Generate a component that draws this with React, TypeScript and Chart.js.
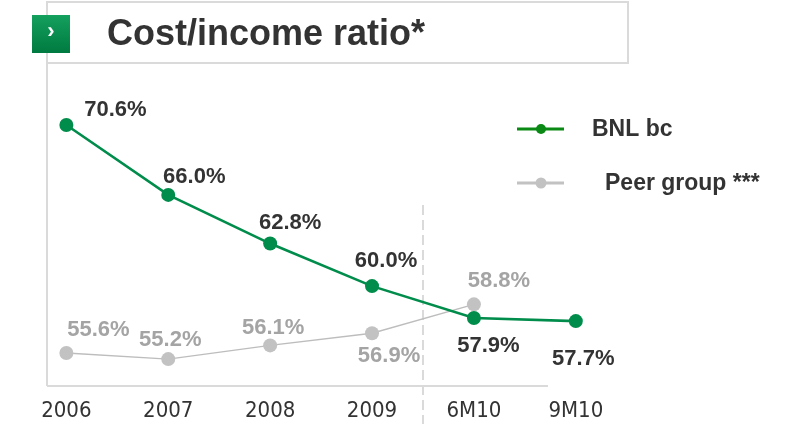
import React, { useEffect, useRef } from "react";
import { Chart, registerables } from "chart.js";

Chart.register(...registerables);

const categories = ["2006", "2007", "2008", "2009", "6M10", "9M10"];
const bnlValues = [70.6, 66.0, 62.8, 60.0, 57.9, 57.7];
const peerValues = [55.6, 55.2, 56.1, 56.9, 58.8];
const seriesNames = ["BNL bc", "Peer group ***"];
const titleText = "Cost/income ratio*";

// label offsets (px) relative to each point: [dx, dy]
const bnlLabelOffsets = [[49, -16.5], [26, -20], [20, -23], [14, -27], [14.5, 25.5], [7.5, 35.5]];
const peerLabelOffsets = [[32, -25.5], [2, -21], [3, -19], [17, 21], [25, -25]];

const GREEN = "#008c4b";
const GREY = "#c2c2c2";
const AXIS = "#dadada";
const TEXT = "#333333";
const FONT = "'Liberation Sans', Arial, sans-serif";

const decorPlugin = {
  id: "decor",
  beforeDatasetsDraw(chart: any) {
    const { ctx, chartArea, scales } = chart;
    const x = scales.x;
    ctx.save();
    // title box
    ctx.strokeStyle = AXIS;
    ctx.lineWidth = 2;
    ctx.strokeRect(47, 2, 581, 61);
    // left axis line
    ctx.beginPath();
    ctx.moveTo(47, 2);
    ctx.lineTo(47, chartArea.bottom);
    ctx.stroke();
    // baseline
    ctx.beginPath();
    ctx.moveTo(47, chartArea.bottom);
    ctx.lineTo(548, chartArea.bottom);
    ctx.stroke();
    // dashed separator
    const sx = Math.round(x.getPixelForValue(3.5));
    ctx.setLineDash([10, 5]);
    ctx.beginPath();
    ctx.moveTo(sx, 205);
    ctx.lineTo(sx, 424);
    ctx.stroke();
    ctx.setLineDash([]);
    // icon
    const g = ctx.createLinearGradient(0, 15, 0, 53);
    g.addColorStop(0, "#14a05e");
    g.addColorStop(1, "#007a40");
    ctx.fillStyle = g;
    ctx.fillRect(32, 15, 38, 38);
    ctx.fillStyle = "#ffffff";
    ctx.font = `bold 22px ${FONT}`;
    ctx.textAlign = "center";
    ctx.textBaseline = "middle";
    ctx.fillText("\u203A", 51, 32);
    // title
    ctx.fillStyle = TEXT;
    ctx.font = `bold 36px ${FONT}`;
    ctx.textAlign = "left";
    ctx.textBaseline = "alphabetic";
    ctx.fillText(titleText, 107, 45);
    ctx.restore();
  },
  afterDatasetsDraw(chart: any) {
    const { ctx } = chart;
    ctx.save();
    ctx.font = `bold 22px ${FONT}`;
    ctx.textAlign = "center";
    ctx.textBaseline = "alphabetic";
    const sets = [
      { idx: 0, vals: bnlValues, offs: bnlLabelOffsets, color: TEXT },
      { idx: 1, vals: peerValues, offs: peerLabelOffsets, color: "#a4a4a4" },
    ];
    sets.forEach((s) => {
      const meta = chart.getDatasetMeta(s.idx);
      ctx.fillStyle = s.color;
      meta.data.forEach((pt: any, i: number) => {
        const [dx, dy] = s.offs[i];
        ctx.fillText(s.vals[i].toFixed(1) + "%", pt.x + dx, pt.y + dy + 8);
      });
    });
    // legend
    const items = [
      { name: seriesNames[0], color: "#0a8a14", y: 129, tx: 592, r: 5 },
      { name: seriesNames[1], color: GREY, y: 183, tx: 605, r: 5.5 },
    ];
    items.forEach((it) => {
      ctx.strokeStyle = it.color;
      ctx.lineWidth = 3;
      ctx.beginPath();
      ctx.moveTo(517, it.y);
      ctx.lineTo(564, it.y);
      ctx.stroke();
      ctx.fillStyle = it.color;
      ctx.beginPath();
      ctx.arc(541, it.y, it.r, 0, Math.PI * 2);
      ctx.fill();
      ctx.fillStyle = TEXT;
      ctx.font = `bold 23px ${FONT}`;
      ctx.textAlign = "left";
      ctx.textBaseline = "alphabetic";
      ctx.fillText(it.name, it.tx, it.y + 7);
    });
    ctx.restore();
  },
};

export default function App() {
  const ref = useRef<HTMLCanvasElement | null>(null);
  useEffect(() => {
    if (!ref.current) return;
    const chart = new Chart(ref.current, {
      type: "line",
      data: {
        datasets: [
          {
            label: seriesNames[0],
            data: bnlValues.map((v, i) => ({ x: i, y: v })),
            borderColor: GREEN,
            backgroundColor: GREEN,
            borderWidth: 2.6,
            pointRadius: 7,
            pointBorderWidth: 0,
            pointBackgroundColor: GREEN,
            tension: 0,
          },
          {
            label: seriesNames[1],
            data: peerValues.map((v, i) => ({ x: i, y: v })),
            borderColor: "#bdbdbd",
            backgroundColor: GREY,
            borderWidth: 1.4,
            pointRadius: 7,
            pointBorderWidth: 0,
            pointBackgroundColor: GREY,
            tension: 0,
          },
        ],
      },
      options: {
        responsive: false,
        animation: false,
        devicePixelRatio: 1,
        layout: { padding: { left: 47, top: 78, right: 158, bottom: 0 } },
        plugins: { legend: { display: false }, tooltip: { enabled: false }, title: { display: false } },
        scales: {
          x: {
            type: "linear",
            min: -0.19,
            max: 5.63,
            grid: { display: false, drawTicks: false },
            border: { display: false },
            afterBuildTicks: (s: any) => {
              s.ticks = categories.map((_, i) => ({ value: i }));
            },
            afterFit: (s: any) => {
              s.height = 42;
            },
            ticks: {
              autoSkip: false,
              maxRotation: 0,
              padding: 12,
              color: TEXT,
              font: { family: "'Liberation Sans Narrow', 'DejaVu Sans Condensed', sans-serif", size: 22 },
              callback: (v: any) => categories[v] ?? "",
            },
          },
          y: {
            display: false,
            min: 53.43,
            max: 73.69,
          },
        },
      },
      plugins: [decorPlugin],
    });
    return () => chart.destroy();
  }, []);
  return (
    <div style={{ position: "absolute", left: 0, top: 0, width: 798, height: 428, background: "#fff" }}>
      <canvas ref={ref} width={798} height={428} style={{ width: 798, height: 428 }} />
    </div>
  );
}
